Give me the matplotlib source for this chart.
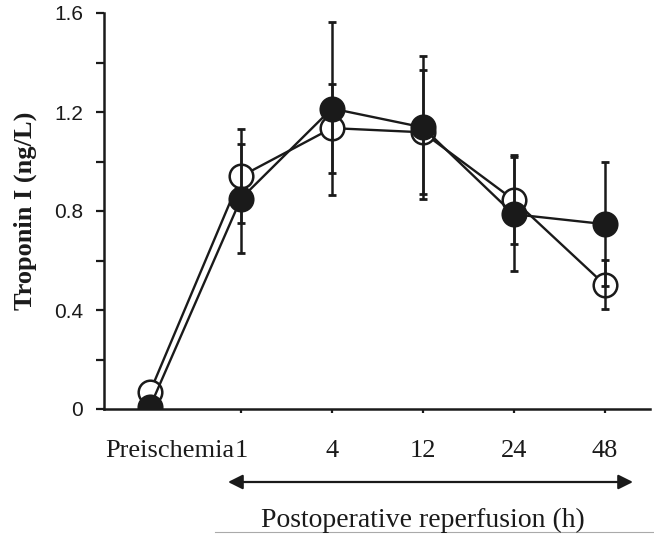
import matplotlib
matplotlib.use("Agg")
import matplotlib.pyplot as plt
from matplotlib.transforms import ScaledTranslation

# Data
labels = ["Preischemia", "1", "4", "12", "24", "48"]
open_mean = [0.07, 0.94, 1.135, 1.118, 0.845, 0.503]
open_err = [0.0, 0.19, 0.18, 0.25, 0.18, 0.10]
filled_mean = [0.01, 0.85, 1.214, 1.138, 0.787, 0.747]
filled_err = [0.0, 0.22, 0.35, 0.29, 0.23, 0.25]
yticks = [0, 0.4, 0.8, 1.2, 1.6]

x = list(range(len(labels)))

fig = plt.figure(figsize=(6.54, 5.34), dpi=100)
ax = fig.add_axes([104 / 654, 1 - 409 / 534, 546 / 654, 396 / 534])

# connecting lines + markers (no visible bars at preischemia)
ax.plot(x, open_mean, color="#1a1a1a", lw=1.7, marker="o", ms=17,
        mfc="white", mec="#1a1a1a", mew=1.8, zorder=3)
ax.errorbar(x[1:], open_mean[1:], yerr=open_err[1:], fmt="none", ecolor="#1a1a1a",
            elinewidth=1.8, capsize=3, capthick=2, zorder=4)
ax.errorbar(x[1:], filled_mean[1:], yerr=filled_err[1:], fmt="none", ecolor="#1a1a1a",
            elinewidth=1.8, capsize=3, capthick=2, zorder=4)
ax.plot(x, filled_mean, color="#1a1a1a", lw=1.7, marker="o", ms=17,
        mfc="#1a1a1a", mec="#1a1a1a", mew=1.8, zorder=5)

ax.set_xlim(-0.507, 5.5)
ax.set_ylim(0, 1.6)

for s in ["top", "right"]:
    ax.spines[s].set_visible(False)
for s in ["left", "bottom"]:
    ax.spines[s].set_linewidth(1.8)
    ax.spines[s].set_color("#1a1a1a")

ax.set_yticks(yticks)
ax.set_yticklabels(["0", "0.4", "0.8", "1.2", "1.6"],
                   fontfamily="Liberation Sans", fontsize=15)
ax.set_yticks([0.2, 0.6, 1.0, 1.4], minor=True)
ax.tick_params(axis="y", which="both", direction="out", length=6, width=1.6,
               pad=9, colors="#1a1a1a")

ax.set_xticks(x)
ax.set_xticklabels(labels, fontfamily="Liberation Serif", fontsize=19)
ax.tick_params(axis="x", direction="out", length=3, width=1.6, pad=19,
               colors="#1a1a1a")
# no tick mark under preischemia, and its label sits right of the point
ax.xaxis.get_major_ticks()[0].tick1line.set_visible(False)
lab0 = ax.get_xticklabels()[0]
lab0.set_transform(lab0.get_transform() + ScaledTranslation(0.195, 0, fig.dpi_scale_trans))

fig.text(25 / 654, 1 - 211 / 534, "Troponin I (ng/L)", rotation=90,
         ha="center", va="center", fontfamily="Liberation Serif",
         fontweight="bold", fontsize=19, color="#1a1a1a")

# reperfusion arrow and label
ax.annotate("", xy=(633 / 654, 1 - 482 / 534), xytext=(228 / 654, 1 - 482 / 534),
            xycoords="figure fraction", textcoords="figure fraction",
            arrowprops=dict(arrowstyle="<|-|>", color="#1a1a1a", lw=1.6,
                            mutation_scale=22, shrinkA=0, shrinkB=0))
fig.text(423 / 654, 1 - 520 / 534, "Postoperative reperfusion (h)",
         ha="center", va="center", fontfamily="Liberation Serif", fontsize=20,
         color="#1a1a1a")
fig.add_artist(plt.Line2D([215 / 654, 1], [1 - 532 / 534, 1 - 532 / 534],
                          transform=fig.transFigure, color="#aaaaaa", lw=0.8))

fig.savefig("out.png", dpi=100)
